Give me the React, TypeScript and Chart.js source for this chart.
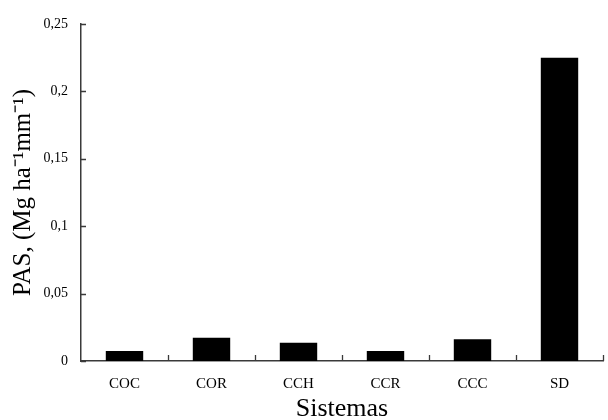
import React, { useEffect, useRef } from 'react'
import { Chart, registerables } from 'chart.js'

Chart.register(...registerables)

const sistemas = ['COC', 'COR', 'CCH', 'CCR', 'CCC', 'SD']
const pasValues = [0.0075, 0.0172, 0.0135, 0.0075, 0.0162, 0.225]
const yTickValues = [0, 0.05, 0.1, 0.15, 0.2, 0.25]
const yTickLabels = ['0', '0,05', '0,1', '0,15', '0,2', '0,25']

const AXIS_COLOR = '#3a3a3a'
const SERIF = '"Liberation Serif", "Times New Roman", serif'

// small tick marks pointing into the plot, like the original figure
const innerTicks = {
  id: 'innerTicks',
  afterDraw(chart: any) {
    const { ctx, scales } = chart
    const x = scales.x
    const y = scales.y
    ctx.save()
    ctx.strokeStyle = AXIS_COLOR
    ctx.lineWidth = 1.3
    ctx.beginPath()
    const step = (x.right - x.left) / sistemas.length
    for (let i = 1; i <= sistemas.length; i++) {
      const px = Math.round(x.left + step * i) + 0.5
      ctx.moveTo(px, y.bottom)
      ctx.lineTo(px, y.bottom - 6)
    }
    yTickValues.forEach(v => {
      const py = Math.round(y.getPixelForValue(v)) + 0.5
      ctx.moveTo(x.left, py)
      ctx.lineTo(x.left + 5, py)
    })
    ctx.stroke()
    ctx.restore()
  },
}

const PasChart: React.FC = () => {
  const chartRef = useRef<HTMLCanvasElement | null>(null)

  useEffect(() => {
    if (!chartRef.current) return

    const chart = new Chart(chartRef.current, {
      type: 'bar',
      data: {
        labels: sistemas,
        datasets: [
          {
            label: 'PAS',
            data: pasValues,
            backgroundColor: '#000',
            borderWidth: 0,
            barPercentage: 0.43,
            categoryPercentage: 1,
          },
        ],
      },
      options: {
        animation: false,
        responsive: true,
        maintainAspectRatio: false,
        layout: { padding: { top: 24, right: 5, bottom: 0, left: 0 } },
        plugins: {
          legend: { display: false },
          tooltip: { enabled: false },
        },
        scales: {
          x: {
            grid: { display: false, drawTicks: false },
            border: { display: true, color: AXIS_COLOR, width: 1.5 },
            ticks: {
              color: '#000',
              padding: 14,
              font: { family: SERIF, size: 15 },
            },
            title: {
              display: true,
              text: 'Sistemas',
              color: '#000',
              padding: 0,
              font: { family: SERIF, size: 26, lineHeight: 0.8 },
            },
            afterFit: (scale: any) => {
              scale.height = 59
            },
          },
          y: {
            min: 0,
            max: 0.25,
            grid: { display: false, drawTicks: false },
            border: { display: true, color: AXIS_COLOR, width: 1.5 },
            afterBuildTicks: (scale: any) => {
              scale.ticks = yTickValues.map(v => ({ value: v }))
            },
            ticks: {
              color: '#000',
              padding: 13,
              font: { family: SERIF, size: 14 },
              callback: (value: any) => yTickLabels[yTickValues.indexOf(Number(value))] ?? '',
            },
            title: {
              display: true,
              text: 'PAS, (Mg ha⁻¹mm⁻¹)',
              color: '#000',
              padding: 11,
              font: { family: SERIF, size: 25, lineHeight: 1 },
            },
            afterFit: (scale: any) => {
              scale.width = 81
            },
          },
        },
      },
      plugins: [innerTicks],
    })

    return () => {
      chart.destroy()
    }
  }, [])

  return (
    <div style={{ position: 'fixed', left: 0, top: 0, width: 608, height: 420, background: '#fff' }}>
      <canvas ref={chartRef} />
    </div>
  )
}

export default function App() {
  return <PasChart />
}
